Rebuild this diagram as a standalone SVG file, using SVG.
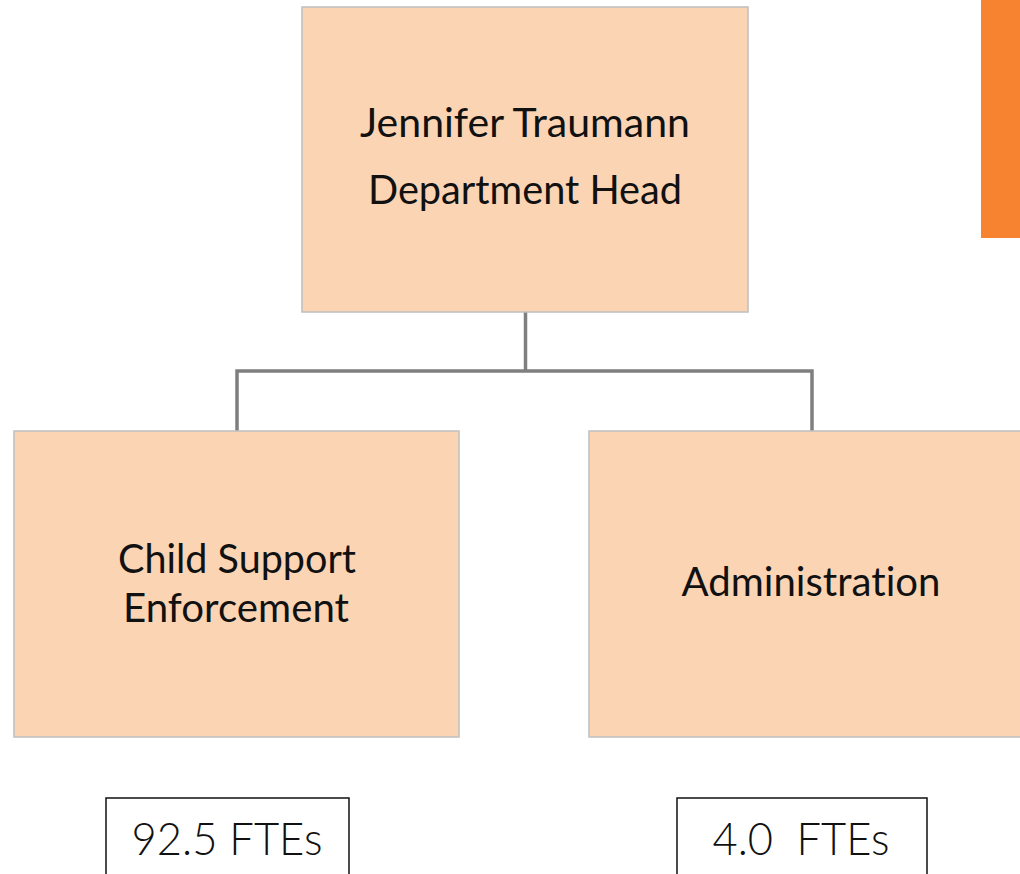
<svg xmlns="http://www.w3.org/2000/svg" width="1020" height="874" viewBox="0 0 1020 874">
  <style>
    .box { fill: #FBD4B4; stroke: #BFBFBF; stroke-width: 1.5; }
    .lbl { font-family: Lato, "Liberation Sans", sans-serif; font-size: 40px; fill: #111; text-anchor: middle; font-variant-ligatures: none; }
    .fte-box { fill: #FFFFFF; stroke: #111; stroke-width: 1.5; }
    .fte { font-family: Lato, "Liberation Sans", sans-serif; font-weight: 300; font-size: 46px; fill: #111; text-anchor: middle; font-variant-ligatures: none; }
    .wire { fill: none; stroke: #7F7F7F; stroke-width: 3.5; }
  </style>
  <rect width="1020" height="874" fill="#FFFFFF"/>

  <!-- accent bar -->
  <rect x="981" y="0" width="39" height="238" fill="#F7822F"/>

  <g id="connectors">
    <path class="wire" d="M525.5 312 V371"/>
    <path class="wire" d="M237 431 V371 H812 V431"/>
  </g>

  <g id="node-head">
    <rect class="box" x="302" y="7" width="446" height="305"/>
    <text class="lbl" x="525" y="137" textLength="330" lengthAdjust="spacingAndGlyphs">Jennifer Traumann</text>
    <text class="lbl" x="525" y="204" textLength="314" lengthAdjust="spacingAndGlyphs">Department Head</text>
  </g>

  <g id="node-cse">
    <rect class="box" x="14" y="431" width="445" height="306"/>
    <text class="lbl" x="237" y="573" textLength="238" lengthAdjust="spacingAndGlyphs">Child Support</text>
    <text class="lbl" x="236" y="622" textLength="226" lengthAdjust="spacingAndGlyphs">Enforcement</text>
  </g>

  <g id="node-admin">
    <rect class="box" x="589" y="431" width="440" height="306"/>
    <text class="lbl" x="811" y="596" textLength="259" lengthAdjust="spacingAndGlyphs">Administration</text>
  </g>

  <g id="fte-cse">
    <rect class="fte-box" x="106" y="798" width="243" height="90"/>
    <text class="fte" x="227" y="855" textLength="191" lengthAdjust="spacingAndGlyphs">92.5 FTEs</text>
  </g>

  <g id="fte-admin">
    <rect class="fte-box" x="677" y="798" width="250" height="90"/>
    <text class="fte" x="801" y="855" textLength="177" lengthAdjust="spacingAndGlyphs" xml:space="preserve">4.0  FTEs</text>
  </g>
</svg>
